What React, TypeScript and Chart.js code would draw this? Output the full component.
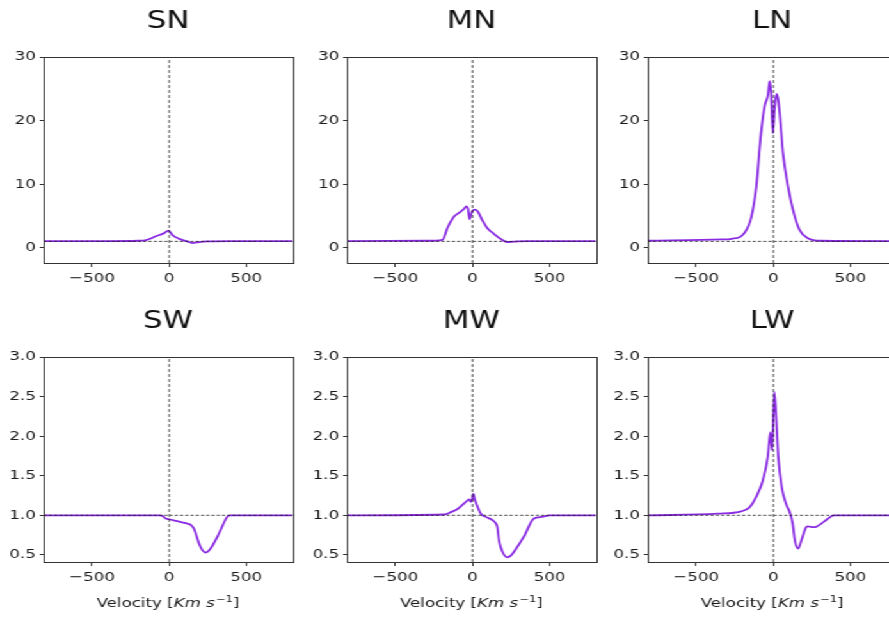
import React, { useEffect, useRef } from "react";
import { Chart, registerables } from "chart.js";

Chart.register(...registerables);

// ---------- data ----------
const xLimits = [-815, 800];
const xTicks = [-500, 0, 500];
const topYLimits = [-2.4, 30];
const topYTicks = [0, 10, 20, 30];
const bottomYLimits = [0.41, 3.0];
const bottomYTicks = [0.5, 1.0, 1.5, 2.0, 2.5, 3.0];

const titles = ["SN", "MN", "LN", "SW", "MW", "LW"];
const xAxisLabel = ["Velocity [", "Km s", "\u22121", "]"];

const snVel = [-815, -400, -200, -150, -86, -32, -4, 21, 65, 118, 150, 194, 250, 400, 800];
const snFlux = [1.05, 1.05, 1.1, 1.2, 1.8, 2.3, 2.7, 2.0, 1.4, 1.0, 0.74, 0.9, 1.0, 1.05, 1.05];

const mnVel = [-815, -300, -195, -163, -120, -88, -56, -41, -30, -19, -5, 13, 34, 62, 95, 138, 191, 224, 267, 350, 800];
const mnFlux = [1.05, 1.1, 1.25, 3.1, 4.9, 5.5, 6.1, 6.5, 6.2, 4.5, 5.6, 6.0, 5.7, 4.4, 3.1, 2.2, 1.26, 0.9, 0.95, 1.05, 1.05];

const lnVel = [-815, -335, -271, -185, -142, -110, -82, -56, -35, -24, -15, -3, 8, 20, 30, 41, 62, 95, 127, 170, 224, 311, 800];
const lnFlux = [1.1, 1.3, 1.4, 2.4, 4.9, 9.7, 17.5, 22.3, 24.0, 26.2, 24.5, 18.0, 22.0, 24.2, 23.5, 21.2, 15.0, 9.7, 6.0, 2.8, 1.5, 1.1, 1.05];

const swVel = [-815, -60, -43, -21, 0, 43, 108, 140, 161, 194, 215, 237, 255, 269, 323, 376, 395, 800];
const swFlux = [1.0, 1.0, 0.99, 0.96, 0.95, 0.93, 0.9, 0.88, 0.83, 0.64, 0.56, 0.53, 0.55, 0.58, 0.77, 0.98, 1.0, 1.0];

const mwVel = [-815, -183, -140, -97, -43, -22, -11, -3, 6, 15, 28, 54, 86, 129, 150, 161, 172, 194, 226, 248, 269, 333, 398, 450, 500, 800];
const mwFlux = [1.0, 1.01, 1.04, 1.08, 1.17, 1.2, 1.17, 1.2, 1.27, 1.2, 1.13, 1.02, 0.98, 0.94, 0.9, 0.85, 0.68, 0.54, 0.47, 0.49, 0.54, 0.73, 0.96, 0.98, 1.0, 1.0];

const lwVel = [-815, -359, -208, -155, -112, -68, -36, -19, -8, 6, 17, 32, 54, 82, 110, 125, 140, 161, 175, 190, 210, 222, 265, 329, 394, 800];
const lwFlux = [1.0, 1.02, 1.05, 1.1, 1.23, 1.44, 1.74, 2.05, 1.82, 2.56, 2.28, 1.74, 1.36, 1.15, 1.02, 0.9, 0.68, 0.58, 0.64, 0.73, 0.84, 0.86, 0.85, 0.92, 1.0, 1.0];

// ---------- layout ----------
const S = 1.28; // horizontal stretch of the reference figure
const FONT = '"DejaVu Sans", "Noto Sans", sans-serif';
const TICK_SIZE = 13;
const Y_AXIS_W = 34;
const PLOT_W_REAL = 249;
const colLeftsReal = [43, 347, 648];
const LINE_COLOR = "#8a2be2";

type PanelProps = {
  title: string;
  vel: number[];
  flux: number[];
  yLimits: number[];
  yTicks: number[];
  decimals: number;
  showXLabel: boolean;
  col: number;
  row: number;
};

function fmtNum(v: number, decimals: number) {
  const s = Math.abs(v).toFixed(decimals);
  return v < 0 ? "\u2212" + s : s;
}

function Panel(p: PanelProps) {
  const ref = useRef<HTMLCanvasElement | null>(null);
  const plotW = PLOT_W_REAL / S;
  const canvasW = Math.ceil(Y_AXIS_W + plotW + 9);
  const padRight = canvasW - Y_AXIS_W - plotW;
  const padTop = 57;
  const plotH = p.row === 0 ? 206 : 205;
  const canvasH = p.row === 0 ? 300 : 319;
  const xAxisH = canvasH - padTop - plotH;
  const left = colLeftsReal[p.col] / S - Y_AXIS_W;
  const top = p.row === 0 ? 0 : 300;

  useEffect(() => {
    if (!ref.current) return;
    const spectrum = p.vel.map((v, i) => ({ x: v, y: p.flux[i] }));
    const vLine = [
      { x: 0, y: p.yLimits[0] },
      { x: 0, y: p.yLimits[1] },
    ];
    const hLine = [
      { x: xLimits[0], y: 1 },
      { x: xLimits[1], y: 1 },
    ];
    const deco = {
      id: "deco",
      afterDatasetsDraw(chart: any) {
        const { ctx, chartArea: a } = chart;
        ctx.save();
        ctx.strokeStyle = "#333";
        ctx.lineWidth = 1;
        ctx.strokeRect(Math.round(a.left) + 0.5, Math.round(a.top) + 0.5, Math.round(a.right - a.left), Math.round(a.bottom - a.top));
        ctx.restore();
      },
      afterDraw(chart: any) {
        const { ctx, chartArea: a } = chart;
        const cx = (a.left + a.right) / 2;
        ctx.save();
        ctx.fillStyle = "#111";
        ctx.textBaseline = "alphabetic";
        ctx.textAlign = "center";
        ctx.font = `24px ${FONT}`;
        ctx.fillText(p.title, cx, a.top - 29);
        if (p.showXLabel) {
          const parts = [
            { t: xAxisLabel[0], f: `${TICK_SIZE}px ${FONT}`, rise: 0 },
            { t: xAxisLabel[1], f: `italic ${TICK_SIZE}px ${FONT}`, rise: 0 },
            { t: xAxisLabel[2], f: `9px ${FONT}`, rise: 5 },
            { t: xAxisLabel[3], f: `${TICK_SIZE}px ${FONT}`, rise: 0 },
          ];
          let total = 0;
          const widths = parts.map((pt, i) => {
            ctx.font = pt.f;
            const w = ctx.measureText(pt.t).width + (i === 2 ? 1 : 0);
            total += w;
            return w;
          });
          let x = cx - total / 2;
          const base = a.bottom + 45;
          ctx.textAlign = "left";
          ctx.fillStyle = "#1a1a1a";
          parts.forEach((pt, i) => {
            ctx.font = pt.f;
            ctx.fillText(pt.t, x + (i === 2 ? 1 : 0), base - pt.rise);
            x += widths[i];
          });
        }
        ctx.restore();
      },
    };

    const chart = new Chart(ref.current, {
      type: "line",
      data: {
        datasets: [
          {
            data: vLine,
            borderColor: "rgba(20,20,20,0.85)",
            borderWidth: 0.9,
            borderDash: [3, 2],
            pointRadius: 0,
            tension: 0,
          },
          {
            data: hLine,
            borderColor: "rgba(20,20,20,0.85)",
            borderWidth: 0.9,
            borderDash: [2.5, 1.6],
            pointRadius: 0,
            tension: 0,
          },
          {
            data: spectrum,
            borderColor: LINE_COLOR,
            borderWidth: 1.8,
            pointRadius: 0,
            cubicInterpolationMode: "monotone",
          },
        ],
      } as any,
      options: {
        responsive: false,
        maintainAspectRatio: false,
        animation: false,
        devicePixelRatio: 1,
        events: [],
        layout: { padding: { top: padTop, right: padRight, left: 0, bottom: 0 } },
        plugins: {
          legend: { display: false },
          tooltip: { enabled: false },
          title: { display: false },
        },
        scales: {
          x: {
            type: "linear",
            min: xLimits[0],
            max: xLimits[1],
            afterBuildTicks: (axis: any) => {
              axis.ticks = xTicks.map((v) => ({ value: v }));
            },
            afterFit: (axis: any) => {
              axis.height = xAxisH;
            },
            grid: { drawOnChartArea: false, drawTicks: true, tickLength: 4, color: "#333", lineWidth: 1 },
            border: { display: false },
            ticks: {
              padding: 4,
              color: "#1a1a1a",
              font: { family: FONT, size: TICK_SIZE },
              maxRotation: 0,
              autoSkip: false,
              callback: (v: any) => fmtNum(Number(v), 0),
            },
          },
          y: {
            type: "linear",
            min: p.yLimits[0],
            max: p.yLimits[1],
            afterBuildTicks: (axis: any) => {
              axis.ticks = p.yTicks.map((v) => ({ value: v }));
            },
            afterFit: (axis: any) => {
              axis.width = Y_AXIS_W;
            },
            grid: { drawOnChartArea: false, drawTicks: true, tickLength: 3, color: "#333", lineWidth: 1 },
            border: { display: false },
            ticks: {
              padding: 3,
              color: "#1a1a1a",
              font: { family: FONT, size: TICK_SIZE },
              autoSkip: false,
              callback: (v: any) => fmtNum(Number(v), p.decimals),
            },
          },
        },
      } as any,
      plugins: [deco],
    });
    return () => chart.destroy();
  }, []);

  return (
    <canvas
      ref={ref}
      width={canvasW}
      height={canvasH}
      style={{ position: "absolute", left, top, width: canvasW, height: canvasH }}
    />
  );
}

export default function App() {
  const panels: PanelProps[] = [
    { title: titles[0], vel: snVel, flux: snFlux, yLimits: topYLimits, yTicks: topYTicks, decimals: 0, showXLabel: false, col: 0, row: 0 },
    { title: titles[1], vel: mnVel, flux: mnFlux, yLimits: topYLimits, yTicks: topYTicks, decimals: 0, showXLabel: false, col: 1, row: 0 },
    { title: titles[2], vel: lnVel, flux: lnFlux, yLimits: topYLimits, yTicks: topYTicks, decimals: 0, showXLabel: false, col: 2, row: 0 },
    { title: titles[3], vel: swVel, flux: swFlux, yLimits: bottomYLimits, yTicks: bottomYTicks, decimals: 1, showXLabel: true, col: 0, row: 1 },
    { title: titles[4], vel: mwVel, flux: mwFlux, yLimits: bottomYLimits, yTicks: bottomYTicks, decimals: 1, showXLabel: true, col: 1, row: 1 },
    { title: titles[5], vel: lwVel, flux: lwFlux, yLimits: bottomYLimits, yTicks: bottomYTicks, decimals: 1, showXLabel: true, col: 2, row: 1 },
  ];
  return (
    <div style={{ position: "fixed", left: 0, top: 0, width: 889, height: 619, overflow: "hidden", background: "#fff" }}>
      <div
        style={{
          position: "absolute",
          left: 0,
          top: 0,
          width: 760,
          height: 619,
          transform: `scaleX(${S})`,
          transformOrigin: "0 0",
        }}
      >
        {panels.map((p, i) => (
          <Panel key={i} {...p} />
        ))}
      </div>
    </div>
  );
}
